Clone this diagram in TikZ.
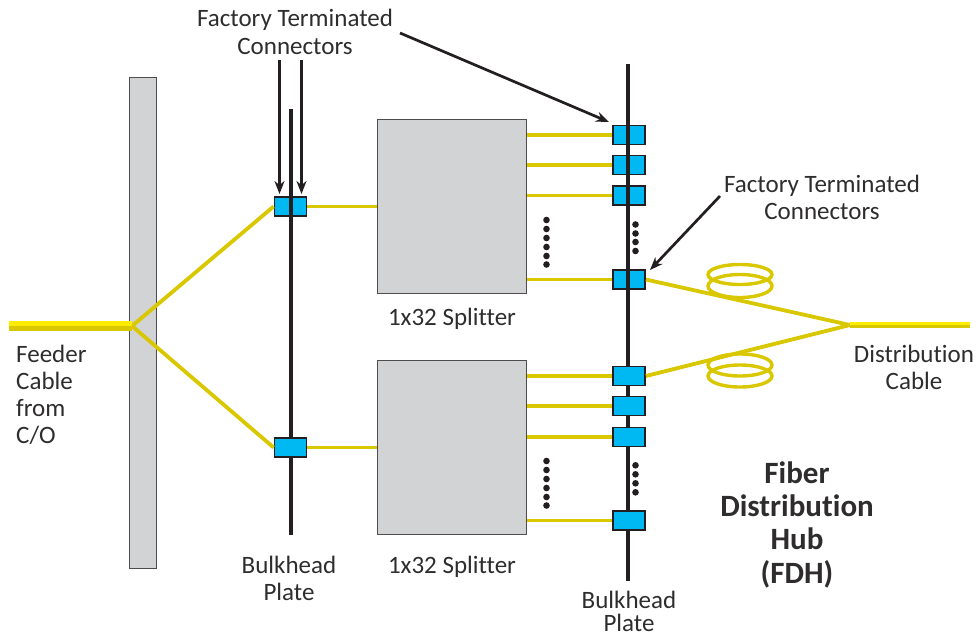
\documentclass[tikz,border=0pt]{standalone}
\usepackage{fontspec}
\setmainfont[Ligatures=NoCommon]{Carlito}
\usetikzlibrary{arrows.meta}
\definecolor{ink}{HTML}{231F20}
\definecolor{txt}{HTML}{2E2C2D}
\definecolor{panel}{HTML}{D1D3D4}
\definecolor{conn}{HTML}{00B9F2}
\definecolor{fib}{HTML}{D9C800}
\definecolor{fibhi}{HTML}{FFEC00}
\tikzset{
  x=1pt,y=-1pt,
  panelbox/.style={draw=ink!80,line width=1pt,fill=panel,inner sep=0pt,anchor=north west},
  connbox/.style={draw=ink,line width=1.8pt,fill=conn,inner sep=0pt,minimum width=32pt,minimum height=19pt},
  fiber/.style={draw=fib,line width=3.8pt},
  plate/.style={draw=ink,line width=4pt},
  pointer/.style={draw=ink,line width=2.7pt,-{Stealth[length=13pt,width=10pt]}},
  lab/.style={text=txt,font=\fontsize{25}{29}\selectfont,align=center,inner sep=0pt,anchor=base},
  labl/.style={text=txt,font=\fontsize{25}{29}\selectfont,inner sep=0pt,anchor=base west},
  blab/.style={text=txt,font=\fontsize{31}{36}\selectfont\bfseries,inner sep=0pt,anchor=base},
  dotmark/.style={fill=ink,circle,inner sep=0pt,minimum size=6.6pt},
  coil/.style={draw=fib,line width=3.4pt}
}
\begin{document}
\begin{tikzpicture}
\useasboundingbox (0,0) rectangle (979,637);
% panels
\node[panelbox,minimum width=27pt,minimum height=491pt] (bar) at (129,77) {};
\node[panelbox,minimum width=149pt,minimum height=174pt] (s1) at (377,119) {};
\node[panelbox,minimum width=149pt,minimum height=174pt] (s2) at (377,360) {};
% connectors crossed by the plate in front
\node[connbox] (a1) at (290.5,206.5) {};
\node[connbox] (c1) at (629,135) {};
\node[connbox] (c2) at (629,165) {};
\node[connbox] (c3) at (629,195.5) {};
\node[connbox] (c4) at (629,279.5) {};
% plates
\coordinate (p1t) at (290.5,109); \coordinate (p1b) at (290.5,535);
\coordinate (p2t) at (628,64); \coordinate (p2b) at (628,581);
\draw[plate] (p1t) -- (p1b);
\draw[plate] (p2t) -- (p2b);
% connectors in front of the plate
\node[connbox] (a2) at (290.5,447.5) {};
\node[connbox] (d1) at (629,376) {};
\node[connbox] (d2) at (629,406) {};
\node[connbox] (d3) at (629,437) {};
\node[connbox] (d4) at (629,520.5) {};
% coils
\draw[coil] (740,274.5) ellipse [x radius=32,y radius=10];
\draw[coil] (740,286) ellipse [x radius=32,y radius=11.5];
\draw[coil] (740,365) ellipse [x radius=32,y radius=11];
\draw[coil] (740,376) ellipse [x radius=32,y radius=11];
% fibres
\coordinate (fe) at (9,326); \coordinate (fs) at (132,326);
\coordinate (de) at (970,325); \coordinate (ds) at (850,325);
\draw[fiber] (fs) -- (a1.west);
\draw[fiber] (fs) -- (a2.west);
\draw[fiber] (a1.east) -- (a1.east -| s1.west);
\draw[fiber] (a2.east) -- (a2.east -| s2.west);
\foreach \n in {c1,c2,c3,c4}{\draw[fiber] (\n.west) -- (\n.west -| s1.east);}
\foreach \n in {d1,d2,d3,d4}{\draw[fiber] (\n.west) -- (\n.west -| s2.east);}
\draw[fiber] (c4.east) -- (ds);
\draw[fiber] (d1.east) -- (ds);
\draw[draw=fib,line width=10pt] (fe) -- (fs);
\draw[draw=fibhi,line width=5.5pt] ([yshift=2.3pt]fe) -- ([yshift=2.3pt]fs);
\draw[draw=fib,line width=6pt] (ds) -- (de);
\draw[draw=fibhi,line width=3pt] ([yshift=1.4pt]ds) -- ([yshift=1.4pt]de);
% dots
\foreach \y [count=\i] in {220,229,238,247,256,264.5}{\node[dotmark] (u\i) at (546.5,\y) {};}
\foreach \y [count=\i] in {461,470,479,488,497,505.5}{\node[dotmark] (l\i) at (546.5,\y) {};}
\foreach \y [count=\i] in {224.5,233.5,242,251}{\node[dotmark] (v\i) at (635.5,\y) {};}
\foreach \y [count=\i] in {465.3,474.3,483.3,492.3}{\node[dotmark] (w\i) at (635.5,\y) {};}
% labels
\node[lab] (t1) at (295,27) {Factory Terminated};
\node[lab] (t1b) at (295,54) {Connectors};
\node[lab] (t2) at (822,192) {Factory Terminated};
\node[lab] (t2b) at (822,219) {Connectors};
\node[lab] (sp1) at (452,325) {1x32 Splitter};
\node[lab] (sp2) at (452,573) {1x32 Splitter};
\node[lab] (bp1) at (289,573) {Bulkhead};
\node[lab] (bp1b) at (289,600) {Plate};
\node[lab] (bp2) at (629,608) {Bulkhead};
\node[lab] (bp2b) at (629,631) {Plate};
\node[lab] (dc) at (914,362) {Distribution};
\node[lab] (dcb) at (914,389) {Cable};
\node[labl] (f1) at (16,362) {Feeder};
\node[labl] (f2) at (16,389) {Cable};
\node[labl] (f3) at (16,416) {from};
\node[labl] (f4) at (16,443) {C/O};
\node[blab] (h1) at (797,483) {Fiber};
\node[blab] (h2) at (797,516) {Distribution};
\node[blab] (h3) at (797,549) {Hub};
\node[blab] (h4) at (797,583) {(FDH)};
% pointers
\coordinate (q1) at (279.5,60); \coordinate (r1) at (279.5,194);
\coordinate (q2) at (301.5,60); \coordinate (r2) at (301.5,194);
\coordinate (q3) at (400,33);  \coordinate (r3) at (609,122);
\coordinate (q4) at (720,196); \coordinate (r4) at (650,270);
\draw[pointer] (q1) -- (r1);
\draw[pointer] (q2) -- (r2);
\draw[pointer] (q3) -- (r3);
\draw[pointer] (q4) -- (r4);
\end{tikzpicture}
\end{document}
